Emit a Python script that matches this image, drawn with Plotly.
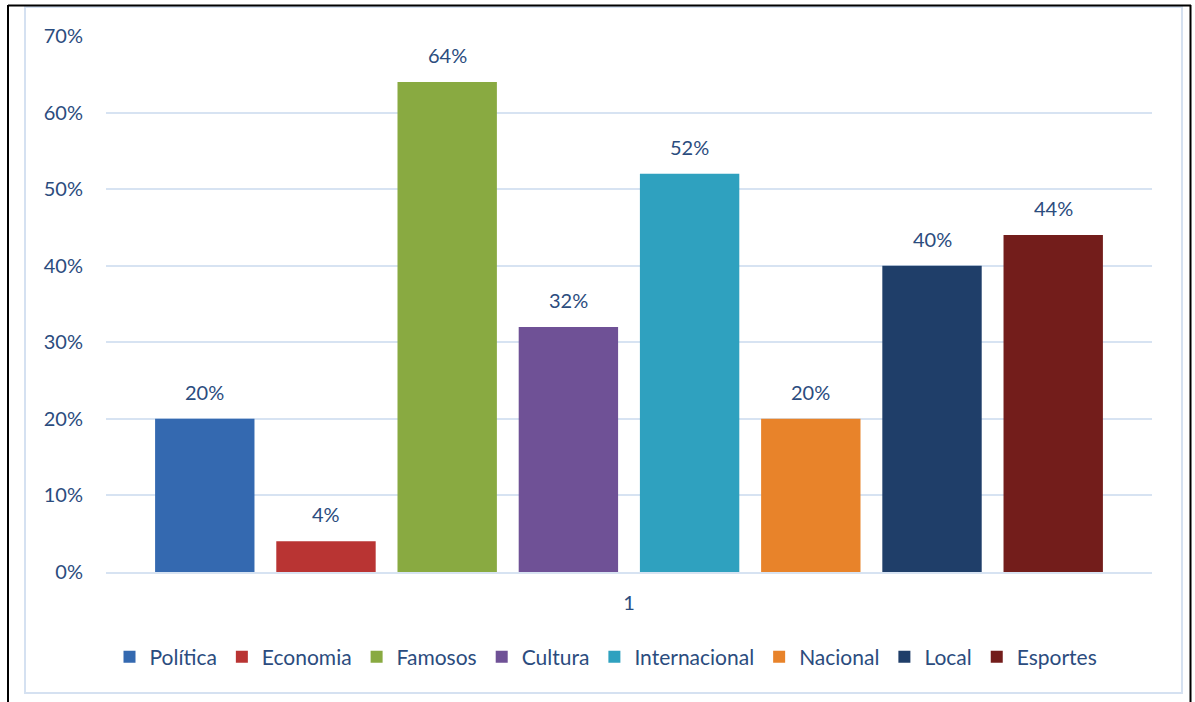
import plotly.graph_objects as go

# Share of each news category (single group "1")
categories = ["Política", "Economia", "Famosos", "Cultura",
              "Internacional", "Nacional", "Local", "Esportes"]
values = [0.20, 0.04, 0.64, 0.32, 0.52, 0.20, 0.40, 0.44]
group_label = ["1"]
y_ticks = [0, 0.1, 0.2, 0.3, 0.4, 0.5, 0.6, 0.7]
y_tick_text = ["0%", "10%", "20%", "30%", "40%", "50%", "60%", "70%"]

colors = ["#3469B0", "#B93433", "#89AA41", "#6F5196",
          "#2FA1BF", "#E8832A", "#1F3E69", "#731D1B"]

TEXT = "#2B4C7E"
GRID = "#D7E3F2"
FONT = "Lato"

W, H = 1195, 702
L, R, T, B = 106, 43, 36, 130
PW, PH = W - L - R, H - T - B

fig = go.Figure()
for name, val, col in zip(categories, values, colors):
    fig.add_trace(go.Bar(
        x=group_label, y=[val], name=name,
        marker=dict(color=col, line=dict(width=0)),
    ))

# value labels above the bars
n = len(categories)
bargap, groupgap = 0.073, 0.18
slot = (1 - bargap) / n
for i, val in enumerate(values):
    xc = -0.5 + bargap / 2 + slot * (i + 0.5)
    fig.add_annotation(
        x=xc, y=val, xref="x", yref="y",
        text=f"{round(val * 100)}%", showarrow=False,
        yanchor="bottom", yshift=13,
        font=dict(family=FONT, size=20, color=TEXT),
    )


def px_x(p):
    return (p - L) / PW


def px_y(p):
    return (H - B - p) / PH


# outer frame and inner chart border
shapes = [
    dict(type="rect", xref="paper", yref="paper",
         x0=px_x(25), x1=px_x(1182), y0=px_y(693), y1=px_y(7),
         line=dict(color="#D5E1F1", width=2), layer="below"),
    dict(type="line", xref="paper", yref="paper",
         x0=px_x(8), x1=px_x(1191), y0=px_y(5.5), y1=px_y(5.5),
         line=dict(color="#000000", width=2)),
    dict(type="line", xref="paper", yref="paper",
         x0=px_x(8), x1=px_x(8), y0=px_y(5), y1=px_y(702),
         line=dict(color="#000000", width=2)),
    dict(type="line", xref="paper", yref="paper",
         x0=px_x(1190.5), x1=px_x(1190.5), y0=px_y(5), y1=px_y(702),
         line=dict(color="#000000", width=2)),
]

fig.update_layout(
    width=W, height=H,
    margin=dict(l=L, r=R, t=T, b=B, pad=0),
    paper_bgcolor="white", plot_bgcolor="white",
    barmode="group", bargap=bargap, bargroupgap=groupgap,
    font=dict(family=FONT, size=20, color=TEXT),
    showlegend=True,
    legend=dict(orientation="h", x=px_x(606), xanchor="center",
                y=px_y(657), yanchor="middle",
                font=dict(family=FONT, size=21, color=TEXT),
                itemwidth=30, traceorder="normal",
                bgcolor="rgba(0,0,0,0)"),
    shapes=shapes,
    xaxis=dict(type="category", range=[-0.5, 0.5], showgrid=False,
               showline=True, linecolor=GRID, linewidth=2,
               ticks="", tickfont=dict(family=FONT, size=20, color=TEXT),
               ticklabelstandoff=12, fixedrange=True),
    yaxis=dict(range=[0, 0.7], tickvals=y_ticks, ticktext=y_tick_text,
               showgrid=True, gridcolor=GRID, gridwidth=2,
               zeroline=False, showline=False, ticks="",
               ticklabelstandoff=22,
               tickfont=dict(family=FONT, size=20, color=TEXT),
               fixedrange=True),
)

fig.write_html("out.html")
